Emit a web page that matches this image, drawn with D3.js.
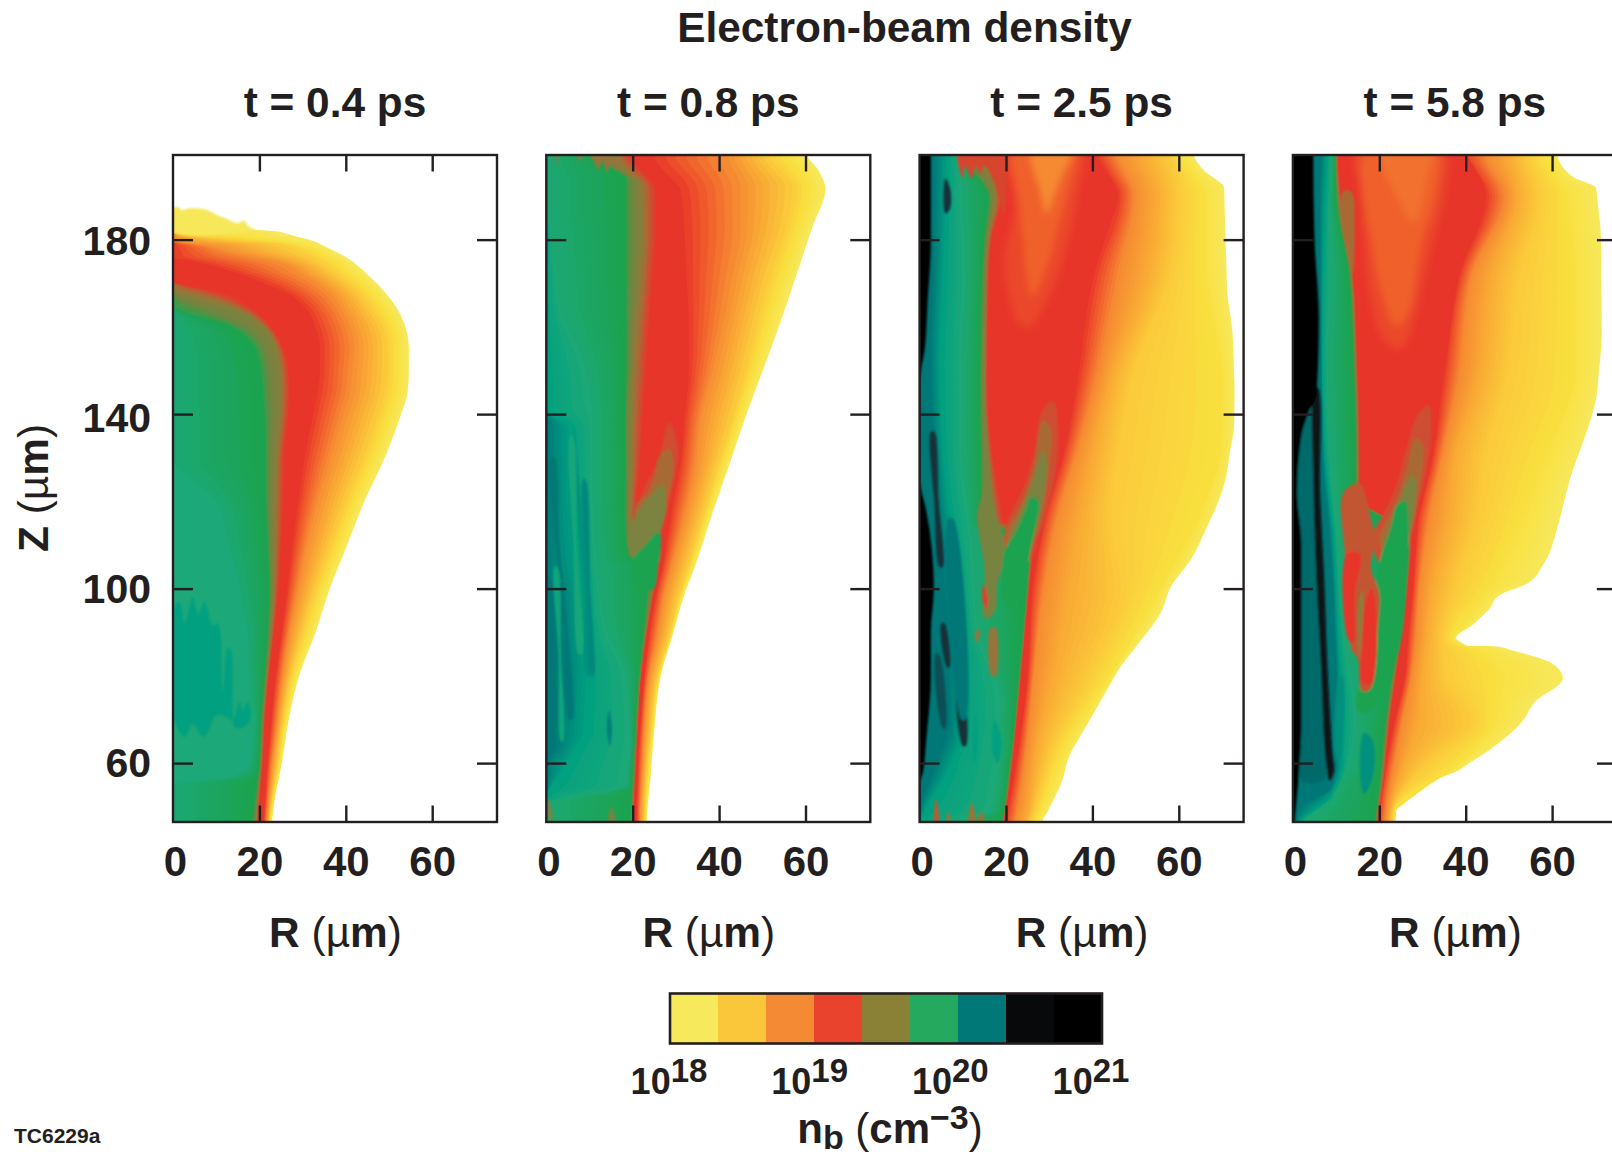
<!DOCTYPE html>
<html><head><meta charset="utf-8">
<script src="https://cdn.jsdelivr.net/npm/d3@7/dist/d3.min.js"></script>
<style>html,body{margin:0;padding:0;background:#fff;overflow:hidden}svg{display:block}text{font-family:"Liberation Sans",Arial,sans-serif;fill:#231f20}</style>
</head><body><svg id="c" width="1612" height="1156"></svg>
<script>
// ---------- data: density contour radii, [Z µm, R µm] ----------
const panelTitles=["t = 0.4 ps","t = 0.8 ps","t = 2.5 ps","t = 5.8 ps"];
const xTicks=[0,20,40,60], yTicks=[60,100,140,180];
const legendColors=["#F7E95C","#FAC63A","#F58A35","#EA432D","#8B8136","#25A95F","#007878","#08090b","#000000"];
const legendExps=[18,19,20,21];
const levelStops=[0,0.5,1,1.5,2,2.5,3,3.3,3.6,4,4.5,4.8,5,5.5,6,6.5,7,7.5,8];
const levelColors=["#F7E85A","#F9DF3E","#FBC83A","#F9A934","#F58A33","#F0602C","#E8352A","#CF4D30","#A86B36","#82803E","#728540","#4A9648","#1FA34F","#1CA878","#00A080","#007878","#123038","#050a0c","#000000"];

// panel 1, t = 0.4 ps
const p1L0=[[183.5,0],[182.3,18],[181.8,24.6],[179.5,33],[176,40],[172,45],[168,49],[164,52],[160,53.8],[155,54.6],[150,54.6],[145,54.3],[140,52.8],[130,49],[120,44.3],[110,40.3],[100,36.3],[90,33],[80,29.2],[70,26.8],[60,25.2],[50,23.3],[46.5,23]];
const p1L1=[[181.5,0],[181,3],[179,24],[176,32],[172,38],[168,43],[164,46],[160,48.5],[155,49.5],[150,49.5],[145,49],[140,47.5],[130,44],[120,40],[110,36.5],[100,33],[90,30],[80,27.3],[70,25.5],[60,24.2],[50,22.7],[46.5,22.3]];
const p1L2=[[179.5,0],[179,5],[177,14],[175,24],[172,30],[168,36],[164,39],[160,41],[155,42],[150,41.5],[145,41],[140,39.5],[130,36.5],[120,33.5],[110,31],[100,29],[90,27],[80,25.4],[70,24.2],[60,23],[50,22],[46.5,21.7]];
const p1L3=[[176,0],[175,5],[172,16],[168,26],[164,31],[160,33],[155,34],[150,34],[145,33.5],[140,32.5],[130,30.5],[120,29],[110,27.7],[100,26.5],[90,25.2],[80,23.8],[70,22.8],[60,21.9],[50,21.2],[46.5,21]];
const p1L3b=[[170.5,0],[168,11.5],[164,19],[160,23],[155,25.8],[150,27],[145,27.3],[140,27],[130,26],[120,25.8],[110,25.2],[100,24.6],[90,23.5],[80,22.3],[70,21.4],[60,20.8],[50,20],[46.5,19.8]];
const p1L4=[[168.5,0],[164,14.6],[160,20.8],[155,23.8],[150,24.6],[145,24.8],[140,24.6],[130,23.8],[120,23.5],[110,23.5],[100,23.3],[90,22.7],[80,21.7],[70,20.8],[60,20.4],[50,19.5],[46.5,19.2]];
const p1L5=[[165,0],[160,13.8],[155,19.2],[150,20.4],[145,20.9],[140,21.2],[130,21.4],[120,21.5],[110,21.9],[100,22.3],[90,21.9],[80,21.2],[70,20.4],[60,20],[50,18.8],[46.5,18.5]];
const p1L55=[[130,0],[120,10],[110,13],[100,15.4],[90,17.3],[80,17.8],[70,18.8],[60,18],[57,14],[55,0]];
const p1Cap=[[0,182],[0,187],[1.2,187.5],[2,186.8],[4,187.2],[7,187],[9,186.3],[10.5,185.5],[12,185],[13.5,184.2],[15,183.8],[16.5,184.3],[17.5,183],[19,182.2]];
const p1Teal=[[0,95],[1.5,97],[2.7,92],[4.6,98],[5.8,94],[7.3,97],[9.2,91.5],[10.4,92],[11.5,76.5],[12.7,86.5],[13.5,85.5],[14,70],[15.4,74],[16.2,72],[17.3,74],[18,71],[17.3,69],[14.6,68],[13.5,70],[10,71],[8.5,68],[7,66],[4.6,69],[2.7,66],[0,71]];

// panel 2, t = 0.8 ps
const p2L0=[[199.7,60.4],[195.9,63],[191.8,64.6],[182.6,61.5],[171.3,57.7],[160,53.8],[149.7,50],[139,46],[128.2,42.3],[117.4,38.5],[105.6,34.6],[98.5,31.9],[89.2,29.2],[80,26.5],[67.7,25],[57.4,24.2],[46.5,23.3]];
const p2L1=[[199.7,51.5],[191.8,57],[182.6,55.4],[171.3,51.5],[160,48.5],[149.7,46],[139,43],[128.2,39.6],[117.4,36.5],[105.6,33],[98.5,30.8],[89.2,28.5],[80,25.8],[67.7,24.2],[57.4,23.2],[46.5,22.7]];
const p2L2=[[199.7,42],[191.8,45],[182.6,45],[171.3,43],[160,40.8],[149.7,38.5],[139,35.8],[128.2,34.6],[117.4,32.3],[105.6,29.2],[98.5,27.3],[89.2,25.8],[80,23.8],[67.7,22.7],[57.4,22.2],[46.5,21.7]];
const p2L3=[[199.7,25],[191.8,31],[182.6,32],[171.3,32.5],[160,33],[149.7,33],[139,32],[128.2,31],[117.4,29],[105.6,27],[98.5,25.4],[89.2,23.8],[80,22.7],[67.7,21.7],[57.4,21.2],[46.5,20.9]];
const p2L3b=[[200,19.2],[192,25.8],[182,25.8],[171,25],[160,24.2],[150,23.5],[139,22.7],[128,21.9],[117,21],[110,21],[105.6,26.5],[100,25.2],[89,23.2],[80,21.9],[68,21.2],[57,20.6],[46.5,20.2]];
const p2L4=[[200,16],[196,18],[193,21.5],[182,22],[171,21.5],[160,20.5],[150,20],[139,19.5],[128,19.5],[117,19.2],[108,19.5],[105,25],[100,24.5],[89,22.9],[80,21.8],[68,21],[57,20.4],[46.5,20]];
const p2L5=[[200,12],[197,14],[194,18.5],[182,18.5],[171,18.5],[160,18.5],[150,18.5],[139,18.2],[128,18.3],[117,18.2],[108,19],[104,24],[100,23.5],[89,22.4],[80,21.4],[68,20.6],[57,20],[46.5,19.5]];
const p2L55=[[190,0],[180,1.5],[165,3],[150,9.2],[140,10.8],[120,10.8],[100,12.3],[90,14],[80,18.5],[65,19.6],[55,18.5],[51,0]];
const p2L6=[[141,0],[137,6],[120,6.5],[100,9],[80,10],[67,9.5],[58,4],[52,0]];
const p2L65=[[105,0],[100,2],[90,3],[80,3.5],[70,2.5],[63,2],[60,0]];
const p2TongueA=[[28.5,138],[30.4,132],[29.6,125],[27.7,117],[26.5,113],[25.4,111],[22.3,112.8],[20.8,115],[21.9,121],[23.1,124],[25.8,129]];
const p2TongueB=[[28.5,132],[29.4,127],[27.5,119],[26.3,113],[22,112],[20.5,116],[21,119.5],[23.5,122],[25,125.5],[26,130]];
const p2TongueC=[[25.8,123],[26.9,124],[27.7,118],[26.5,113],[25.8,105.6],[20,107],[19.2,113.6],[21.5,118]];
const p2Wedge=[[20,106.5],[23,110],[25.8,113],[26.5,112],[25.8,105],[24.8,100],[21,100]];
const p2Top=[[2.3,201],[2.6,197],[3,200],[7,200],[7.5,198],[9,200],[11,198],[12,196],[13,198],[14,195.5],[15,197.5],[16.5,196],[17,201]];
const p2Stripe1=[[6.5,137],[8,120],[9.5,100],[10.5,80],[9.5,80],[8.5,100],[7,120]];
const p2Stripe2=[[2,130],[3,110],[5,90],[6,70],[5,70],[4,90],[2,110],[1,130]];
const p2Stripe3=[[14.5,72],[15.2,68],[14.7,64],[14,68]];
const p2Stripe4=[[0.3,48],[0.6,52],[1.5,46.5]];
const p2Stripe5=[[14.5,46],[15,50],[16,46]];
const p2Stripe6=[[1.9,105],[2.8,85],[3.4,65],[3.9,65],[3.4,85],[2.6,105]];
const p2Stripe7=[[5.5,135],[6.3,110],[7.5,85],[8.3,85],[7.1,110],[6.2,135]];
const p2Stripe8=[[8.5,125],[9.5,100],[10.5,80],[11,80],[10.2,100],[9.1,125]];

// panel 3, t = 2.5 ps
const p3L0=[[199.7,63.5],[195.9,65.8],[191.8,70.5],[180.5,70.8],[168.2,71.2],[159,72.4],[146.7,72.9],[137.4,72.8],[125,70.8],[116,67.4],[106.7,62.8],[100.5,58.2],[94.4,55.8],[87.2,50.5],[81,45.8],[71.8,40.5],[62.6,35.1],[55.4,32.8],[46.5,28.5]];
const p3L05=[[200,60],[190.3,65.8],[172.3,65.8],[147.7,70],[131.3,69.5],[115.9,64.3],[100.5,55.8],[80,44],[64.6,34],[49.2,28],[46.5,27]];
const p3L1=[[200,58],[190.3,60],[172.3,58],[147.7,49],[131.3,46],[115.9,44.3],[100.5,46.6],[80,39],[64.6,31.2],[49.2,26.6],[46.5,25.8]];
const p3L15=[[200,52],[190.3,55],[172.3,52.8],[147.7,44.3],[131.3,40.5],[115.9,37.4],[100.5,35],[80,31.2],[64.6,27.4],[49.2,25.2],[46.5,24.6]];
const p3L2=[[200,46],[190.3,50],[172.3,46.6],[147.7,41.2],[131.3,36.6],[115.9,32],[100.5,29],[80,26.5],[64.6,25],[49.2,22.8],[46.5,22.3]];
const p3L3=[[200,41],[196,43],[190.3,46],[172.3,40.5],[147.7,36.6],[131.3,33.5],[115.9,28.9],[100.5,26.2],[80,25],[64.6,23.1],[49.2,20.5],[46.5,20]];
const p3L3b=[[200,18],[190.3,19.3],[180,16.8],[172.3,16.2],[147.7,15.8],[131.3,17],[120,19],[115.2,20],[113,26.6],[100.5,25.5],[80,23.5],[64.6,22],[49.2,20],[46.5,19.5]];
const p3L4=[[200,14],[190.3,17.5],[180,15.8],[172.3,15.3],[147.7,15],[131,15.5],[115,16.5],[113,26],[100.5,25],[80,23.2],[64.6,21.7],[49,19.7],[46.5,19.3]];
const p3L5=[[200,10],[190,16],[180,15],[172,14.5],[147.7,14],[131,14.2],[115,14.5],[112,25.5],[100.5,24.8],[80,23],[64.6,21.5],[49,19.5],[46.5,19.2]];
const p3L55=[[200,9.5],[190,9.7],[172,10.5],[152,9.7],[131,9.7],[111,12],[90,13.5],[75,18.5],[60,18.5],[49,16.6],[46.5,10]];
const p3L6=[[200,6.6],[172,5.8],[152,5],[131,5.8],[111,8],[90,10.5],[70,10.5],[57.5,6.6],[49,1.2],[46.5,0]];
const p3L65=[[200,3.5],[172,3.2],[152,2.5],[131,3.5],[111,5],[90,6.5],[70,7],[57.5,3],[49,0]];
const p3L8=[[200,2.6],[180,2.6],[165,1.8],[155,1.2],[150,0.3],[147,0],[125,0],[123,0.3],[118,1.5],[100,3.3],[90,2.6],[80,2.6],[65,1.5],[58,0.8],[55,0]];
const p3HollowA=[[20.5,201],[37.5,201],[36.5,190],[34.5,180],[32,172],[29,165],[25.5,160],[22.8,161],[20.5,168],[19.7,176],[22,187]];
const p3HollowB=[[22,201],[36,201],[34.5,192],[32,183],[29.5,174],[26,167],[24.5,174],[24,180],[22.8,190]];
const p3HollowC=[[26,201],[35.5,201],[33.5,196],[31,190],[29.5,186],[28,191]];
const p3TongueA=[[19.7,113],[21.5,118],[24,123],[26.5,131],[28.5,141],[31,143],[32,137],[31.5,127],[29.5,118],[27.5,112],[25,106],[20,108]];
const p3TongueB=[[20,112],[24,120],[26.5,128],[28.5,138.5],[30.3,137],[30,128],[28.5,118],[26,110],[22,107]];
const p3TongueC=[[20.5,110],[23,117],[26,124.5],[28.5,131.5],[29.5,128],[28,118],[25.5,110],[22,106]];
const p3Wedge=[[19.5,108],[22,112.5],[24.5,118],[25.8,121],[27.5,120],[26.5,113],[25,105],[24,98],[20,96]];
const p3Side=[[15,140],[14.5,122],[13.3,117],[15,105],[15,98],[14.5,95],[15.5,93],[17.5,95],[18,101],[19.5,106],[20,109],[19,113],[17.5,118],[16.5,125],[15.5,135]];
const p3Dot1=[[14.8,101],[15.8,98],[15.6,95.5],[14.6,97]];
const p3Dot2=[[12.8,90],[14,90.5],[13.3,87.5]];
const p3Dot3=[[16.4,91],[17.6,91],[17.6,80],[16.6,80]];
const p3Stripe1=[[6,194],[7.2,191],[7,187],[6,186],[5.5,190]];
const p3StripeA=[[2.6,136],[3.4,120],[4.6,105],[5.4,105],[4.4,120],[3.4,136]];
const p3StripeB=[[5,92],[6.4,82],[7,82],[5.8,92]];
const p3StripeC=[[8.6,82],[10,64],[10.8,64],[9.4,82]];
const p3StripeD=[[3.7,85],[5.4,68],[6,68],[4.5,85]];
const p3Stripe3=[[6.6,116],[9.7,70],[10.7,70],[7.8,116]];
const p3Blob1=[[17.4,70],[19,65],[18,60],[16.8,63]];
const p3Blob2=[[12.8,72],[13.5,65],[12.8,60],[12.3,65]];
const p3Bit1=[[3.5,46],[3.8,52],[4.4,46]];
const p3Bit2=[[6.3,46],[6.6,49],[7.2,46]];
const p3Bit3=[[11.5,46],[12,51],[13,46]];
const p3Bit4=[[13.5,46],[14.3,49],[15,46]];
const p3Jag=[[9,201],[10,194],[10.5,197],[12,194],[13,197],[14,195],[15,197],[17,194],[18,191],[19.5,186],[20,190],[19,201]];

// panel 4, t = 5.8 ps
const p4L0=[[199.7,61.3],[194.4,64.8],[191.8,70.2],[180.5,71.3],[159,71.5],[145.6,70.5],[135.4,67.8],[127.2,64.8],[112.8,60.9],[105.6,58],[101,54],[98.5,47.8],[95.4,45.5],[91.8,41.7],[88.7,37.8],[86.9,40.2],[86.7,47.8],[84.1,57],[83,59.8],[79.5,62.5],[73.8,55.8],[69.7,53.2],[63.6,46.3],[58.5,38.6],[55.4,30.9],[50.3,24],[46.5,23.8]];
const p4L05=[[200,58],[190,63],[172,64.8],[147.7,64.8],[131,58.6],[116,52.5],[100.5,45.5],[88.7,37],[87,39],[86,42],[79.5,47],[69.7,46.3],[60,38.6],[49,23.6],[46.5,23.4]];
const p4L1=[[200,54],[190,57],[172,52.5],[147.7,49.4],[131,44.8],[116,42.5],[100.5,37.8],[88.7,34.8],[79.5,35.5],[69.7,41],[60,31],[49,23.2],[46.5,23]];
const p4L15=[[200,50],[190,52],[172,46.3],[147.7,43.2],[131,37.8],[116,36.3],[100.5,32.5],[88.7,31],[79.5,30],[69.7,29.4],[60,26],[49,22.5],[46.5,22.3]];
const p4L2=[[200,45],[190,49.4],[172,41.7],[147.7,38.6],[131,34.8],[116,31.7],[100.5,29.4],[88.7,28.6],[79.5,27.5],[69.7,25.5],[60,23.6],[49,21.7],[46.5,21.5]];
const p4L3=[[200,40],[190,44.8],[172,38.6],[147.7,34.8],[131,32.5],[116,29],[100.5,27.8],[88.7,26.7],[79.5,25.9],[69.7,23.6],[60,21.7],[49,20],[46.5,19.8]];
const p4L3b=[[199.7,10.5],[190,11.2],[172,14],[152,15],[131,15.5],[121,15.5],[112,27.5],[100.5,26.7],[87,25],[70,22.5],[55,21],[46.5,19.8]];
const p4L4=[[199.7,10],[190,10.6],[172,13.5],[152,14.5],[131,15],[121,15],[112,27],[100.5,26.2],[87,24.5],[70,22],[55,20.5],[46.5,19.4]];
const p4L5=[[199.7,9.8],[190,10],[172,13],[152,14],[131,14.5],[121,14.5],[112,26.5],[100.5,25.8],[87,24],[70,21.5],[55,20],[46.5,19]];
const p4L55=[[200,9],[190,8.6],[172,8.6],[152,8],[131,8.6],[112,10.2],[90,11.7],[70,14.5],[60,13],[50,6],[46.5,3]];
const p4L6=[[200,8],[190,7.6],[172,7],[152,6.8],[131,7.5],[112,9.5],[90,10.5],[70,11.5],[60,11.5],[52,9],[46.5,2]];
const p4L65=[[200,6.5],[190,6.2],[172,6.3],[152,6.5],[131,6.8],[112,8.5],[90,9.7],[70,10.2],[60,10],[54,8.5],[50,2],[46.5,0.8]];
const p4L8=[[200,4.7],[180,5],[162,6],[145,5.5],[140,3.5],[135,2],[122,1],[110,2],[90,2],[70,2],[60,1.6],[50,0.7],[46.5,0.4]];
const p4Dark=[[1,146],[5.5,146],[6,122],[6.5,101],[7.2,82],[8.5,62],[7,56],[2,56],[1.5,80],[1,120]];
const p4Stripe=[[5.8,146],[6.3,122],[7.3,101],[8,82],[9.2,62],[9.5,58],[8.5,56],[7.5,62],[6.5,82],[5.5,101],[4.8,122],[5,146]];
const p4Olive=[[11.6,191],[13.5,191],[14.3,183],[13.8,172],[12.8,176],[11.4,183]];
const p4HollowA=[[15,201],[35,201],[35,190],[32.5,180],[30.5,172],[28.5,163],[25,155],[21,157],[18,166],[16.5,178],[15.5,190]];
const p4HollowB=[[17,201],[33,201],[33,190],[30,180],[28.5,172],[27,164],[24,160],[20.5,168],[18.5,178]];
const p4HollowC=[[20,201],[32,201],[31,194],[28,184],[24,190]];
const p4TongueA=[[19,113],[21.5,118],[24,124],[26.5,133],[29,140],[31.5,142],[32,136],[30.5,125],[28.5,117],[27,110],[25,106],[20,106]];
const p4TongueB=[[20,111],[24,120],[26.5,128],[28.5,134.5],[30,133],[29.5,125],[27.5,116],[26,110],[22,107]];
const p4TongueC=[[21,110],[24,118],[26.5,124.5],[28,126],[28.5,120],[27.5,114],[26,110],[22,106]];
const p4Wedge=[[20.5,108],[22.5,113],[24,119],[26,120],[26.8,113],[26.2,100],[25,88],[22,79],[18,72],[15,72],[17,85],[19,100]];
const p4Brown=[[11.7,122],[15.5,124],[19,113.5],[20,113.5],[18,105],[20,99],[19.5,90],[18,77],[16,76.5],[15,84],[13.6,86],[12.5,97],[12,108]];
const p4Red1=[[12.5,108],[15.5,108],[14.4,99],[14,87.5],[12.8,88.5]];
const p4Red2=[[16.8,97],[18.3,100],[19.5,90],[18,78],[16,78.5],[16,87]];
const p4Olive2=[[15.2,96.5],[16.2,99.5],[15.5,84]];
const p4Teal1=[[16.5,67],[18.5,65],[18.5,57],[16.5,53],[15.5,58]];
const p4Teal2=[[9.8,62],[10.8,80],[11.5,80],[10.8,60]];

const panelIsolines=[
 [[0,p1L0],[1,p1L1],[2,p1L2],[3,p1L3],[3,p1L3b],[4,p1L4],[5,p1L5],[5.5,p1L55]],
 [[0,p2L0],[1,p2L1],[2,p2L2],[3,p2L3],[3,p2L3b],[4,p2L4],[5,p2L5],[5.5,p2L55],[6,p2L6],[6.5,p2L65]],
 [[0,p3L0],[0.5,p3L05],[1,p3L1],[1.5,p3L15],[2,p3L2],[3,p3L3],[3,p3L3b],[4,p3L4],[5,p3L5],[5.5,p3L55],[6,p3L6],[6.5,p3L65]],
 [[0,p4L0],[0.5,p4L05],[1,p4L1],[1.5,p4L15],[2,p4L2],[3,p4L3],[3,p4L3b],[4,p4L4],[5,p4L5],[5.5,p4L55],[6,p4L6],[6.5,p4L65]]
];
const panelCores=[[],[],[p3L8],[p4L8]];
const panelSoft=[[],[],[[2.8,p3HollowA],[2.5,p3HollowB],[2,p3HollowC]],[[2.8,p4HollowA],[2.5,p4HollowB],[2.3,p4HollowC]]];
const panelPatches=[
 [[0,p1Cap],[6,p1Teal]],
 [[3.3,p2TongueA],[3.6,p2TongueB],[4.2,p2TongueC],[5,p2Wedge],[3.8,p2Top],[6.2,p2Stripe1],[6.5,p2Stripe2],[6.4,p2Stripe3],[4.3,p2Stripe4],[4.3,p2Stripe5],[5.7,p2Stripe6],[5.6,p2Stripe7],[6.3,p2Stripe8]],
 [[3.3,p3TongueA],[3.6,p3TongueB],[4.2,p3TongueC],[4.3,p3Side],[5,p3Wedge],[3.2,p3Dot1],[3.8,p3Dot2],[3.8,p3Dot3],[7,p3Stripe1],[7,p3StripeA],[7,p3StripeB],[7,p3StripeC],[6.8,p3StripeD],[6.5,p3Stripe3],[6,p3Blob1],[6,p3Blob2],[3.4,p3Bit1],[3.8,p3Bit2],[3.8,p3Bit3],[3.8,p3Bit4],[3.2,p3Jag]],
 [[3.6,p4Olive],[3.3,p4TongueA],[3.6,p4TongueB],[4.2,p4TongueC],[5,p4Wedge],[3.4,p4Brown],[3,p4Red1],[3,p4Red2],[4,p4Olive2],[6.6,p4Dark],[7.4,p4Stripe],[6.2,p4Teal1],[6.2,p4Teal2]]
];
const yLabelNudge=new Map([[180,1.5],[140,4],[100,1],[60,0]]);

// ---------- layout ----------
const svg=d3.select("#c");
const defs=svg.append("defs");
[["blurA",0.7],["blurB",1.1],["blurC",3.5]].forEach(([id,s])=>{
  defs.append("filter").attr("id",id).attr("x","-10%").attr("y","-10%").attr("width","120%").attr("height","120%")
   .append("feGaussianBlur").attr("stdDeviation",s);
});
const ink="#231f20";
const levelColor=d3.scaleLinear().domain(levelStops).range(levelColors).interpolate(d3.interpolateRgb).clamp(true);
const plotW=324,plotH=667,plotTop=155,plotLeft=173,gap=373.3,FS=42.4;
const x=d3.scaleLinear().domain([0,75]).range([0,plotW]);
const y=d3.scaleLinear().domain([46.5,199.4]).range([plotH,0]);
const fn=pts=>d3.scaleLinear().domain(pts.map(p=>p[0])).range(pts.map(p=>p[1])).clamp(true);
const area=d3.area().x0(x(-6)).x1(d=>x(d.r)).y(d=>y(d.z)).curve(d3.curveMonotoneY);
const blob=d3.line().x(d=>x(d[0])).y(d=>y(d[1])).curve(d3.curveCatmullRomClosed.alpha(0.5));

panelTitles.forEach((title,i)=>{
  const g=svg.append("g").attr("transform",`translate(${plotLeft+gap*i},${plotTop})`);
  const clipId="clip"+i;
  defs.append("clipPath").attr("id",clipId).append("rect").attr("width",plotW).attr("height",plotH);
  const field=g.append("g").attr("clip-path",`url(#${clipId})`);
  const base=field.append("g").attr("filter","url(#blurA)");
  const iso=panelIsolines[i];
  const drawArea=(target,rows,ra,rb,t,col)=>target.append("path")
     .datum(rows.map(z=>({z,r:ra(z)+(rb(z)-ra(z))*t}))).attr("d",area).attr("fill",col);
  iso.forEach((cur,k)=>{
    const next=iso[k+1]||cur;
    const steps=next===cur?1:(next[0]===cur[0]?1:7);
    const rows=d3.sort(Array.from(new Set([206,40].concat(cur[1].map(p=>p[0]),next[1].map(p=>p[0])))),(a,b)=>b-a);
    const ra=fn(cur[1]),rb=fn(next[1]);
    for(let s=0;s<steps;s++){
      const t=s/steps;
      drawArea(base,rows,ra,rb,t,levelColor(cur[0]+(next[0]-cur[0])*t));
    }
  });
  const soft=field.append("g").attr("filter","url(#blurC)");
  panelSoft[i].forEach(([lv,pts])=>soft.append("path").attr("d",blob(pts)).attr("fill",levelColor(lv)));
  const patches=field.append("g").attr("filter","url(#blurB)");
  panelPatches[i].forEach(([lv,pts])=>patches.append("path").attr("d",blob(pts)).attr("fill",levelColor(lv)));
  panelCores[i].forEach(pts=>{
    const rows=[206].concat(pts.map(p=>p[0]),[40]);const rf=fn(pts);
    patches.append("path").datum(rows.map(z=>({z,r:rf(z)}))).attr("d",area).attr("fill",levelColor(8));
  });

  // axes
  const style=a=>{a.select(".domain").remove();a.selectAll("line").attr("stroke",ink).attr("stroke-width",2.4);};
  g.append("g").attr("transform",`translate(0,${plotH})`).call(d3.axisBottom(x).tickValues(xTicks.slice(1)).tickSize(-16.5).tickFormat("")).call(style);
  g.append("g").call(d3.axisTop(x).tickValues(xTicks.slice(1)).tickSize(-16.5).tickFormat("")).call(style);
  g.append("g").call(d3.axisLeft(y).tickValues(yTicks).tickSize(-20).tickFormat("")).call(style);
  g.append("g").attr("transform",`translate(${plotW},0)`).call(d3.axisRight(y).tickValues(yTicks).tickSize(-20).tickFormat("")).call(style);
  g.append("rect").attr("width",plotW).attr("height",plotH).attr("fill","none").attr("stroke",ink).attr("stroke-width",2.4);

  // tick labels
  const xl=g.append("g").attr("transform",`translate(0,${plotH})`).call(d3.axisBottom(x).tickValues(xTicks).tickSize(0).tickPadding(24));
  xl.select(".domain").remove();
  xl.selectAll("text").attr("font-family",'"Liberation Sans"').attr("font-weight",700).attr("font-size",42).attr("dy","0.71em").attr("fill",ink)
    .attr("dx",d=>d===0?2:0);
  if(i===0){
    const yl=g.append("g").call(d3.axisLeft(y).tickValues(yTicks).tickSize(0).tickPadding(22));
    yl.select(".domain").remove();
    yl.selectAll("text").attr("font-family",'"Liberation Sans"').attr("font-weight",700).attr("font-size",41).attr("fill",ink)
      .attr("transform",d=>`translate(0,${yLabelNudge.get(d)})`);
  }
  g.append("text").attr("x",plotW/2).attr("y",117-plotTop).attr("text-anchor","middle").attr("font-weight",700).attr("font-size",FS).text(title);
  const rl=g.append("text").attr("x",plotW/2+0.5).attr("y",947-plotTop).attr("text-anchor","middle").attr("font-size",FS);
  rl.append("tspan").attr("font-weight",700).text("R ");
  rl.append("tspan").text("(µ");
  rl.append("tspan").attr("font-weight",700).text("m");
  rl.append("tspan").text(")");
});

// titles
svg.append("text").attr("x",904.5).attr("y",42).attr("text-anchor","middle").attr("font-weight",700).attr("font-size",FS).text("Electron-beam density");
const zl=svg.append("text").attr("transform","translate(48,488) rotate(-90)").attr("text-anchor","middle").attr("font-size",FS);
zl.append("tspan").attr("font-weight",700).text("Z ");
zl.append("tspan").text("(µ");
zl.append("tspan").attr("font-weight",700).text("m");
zl.append("tspan").text(")");
svg.append("text").attr("x",14).attr("y",1143).attr("font-weight",700).attr("font-size",21).text("TC6229a");

// legend
const lx=d3.scaleBand().domain(d3.range(legendColors.length)).range([670,1102]);
const lg=svg.append("g");
lg.selectAll("rect").data(legendColors).join("rect").attr("x",(d,i)=>lx(i)).attr("y",993.5).attr("width",lx.bandwidth()+0.5).attr("height",50).attr("fill",d=>d);
lg.append("rect").attr("x",670).attr("y",993.5).attr("width",432).attr("height",50).attr("fill","none").attr("stroke",ink).attr("stroke-width",2.6);
const lt=d3.scaleLinear().domain([18,21]).range([669,1091]);
legendExps.forEach(e=>{
  const t=lg.append("text").attr("x",lt(e)).attr("y",1094).attr("text-anchor","middle").attr("font-weight",700).attr("font-size",36);
  t.append("tspan").text("10");
  t.append("tspan").attr("dy",-12).attr("font-size",33).text(e);
});
const nb=svg.append("text").attr("x",890).attr("y",1143).attr("text-anchor","middle").attr("font-weight",700).attr("font-size",42);
nb.append("tspan").text("n");
nb.append("tspan").attr("dy",5.5).attr("font-size",34).text("b");
nb.append("tspan").attr("dy",-5.5).attr("font-weight",400).text(" (");
nb.append("tspan").text("cm");
nb.append("tspan").attr("dy",-14).attr("font-size",34).text("−3");
nb.append("tspan").attr("dy",14).attr("font-weight",400).text(")");
</script></body></html>
